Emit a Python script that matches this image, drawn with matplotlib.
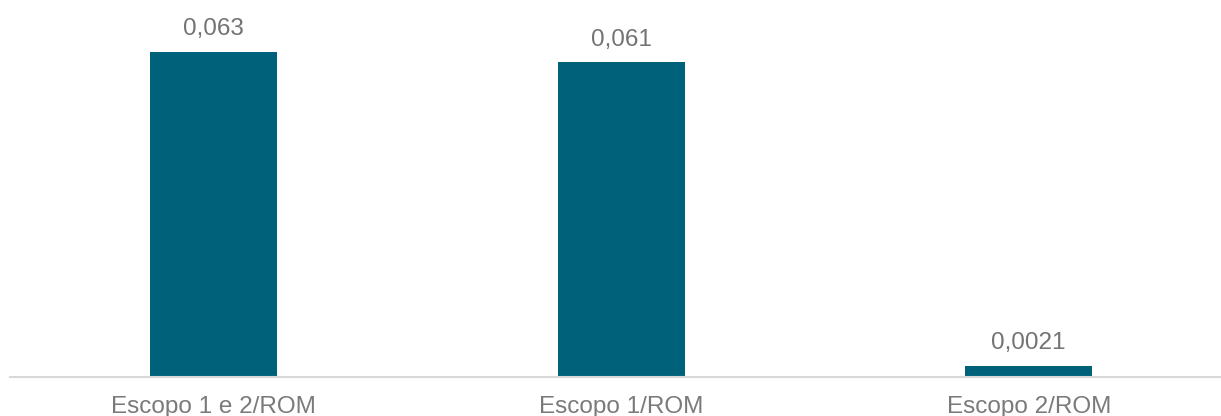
import matplotlib.pyplot as plt

categorias = ["Escopo 1 e 2/ROM", "Escopo 1/ROM", "Escopo 2/ROM"]
valores = [0.063, 0.061, 0.0021]
rotulos = ["0,063", "0,061", "0,0021"]

plt.rcParams['font.family'] = ['Liberation Sans', 'DejaVu Sans']

fig = plt.figure(figsize=(12.21, 4.16), dpi=100)
ax = fig.add_axes([10/1221, 39/416, 1211/1221, 377/416])

x = range(len(categorias))
barras = ax.bar(x, valores, width=0.312, color='#00627a')

for b, txt in zip(barras, rotulos):
    ax.annotate(txt, (b.get_x() + b.get_width()/2, b.get_height()),
                xytext=(0, 8.5), textcoords='offset points',
                ha='center', va='bottom', fontsize=17.5, color='#737373')

ax.set_xlim(-0.5, -0.5 + 1211/407.5)
ax.set_ylim(0, 0.07308)
ax.set_xticks(list(x))
ax.set_xticklabels(categorias, fontsize=17.5, color='#7a7a7a')
ax.tick_params(axis='x', length=0, pad=13.5)
ax.set_yticks([])
for s in ['top', 'right', 'left']:
    ax.spines[s].set_visible(False)
ax.spines['bottom'].set_color('#d9d9d9')
ax.spines['bottom'].set_linewidth(1.5)

fig.savefig("out.png", dpi=100)
